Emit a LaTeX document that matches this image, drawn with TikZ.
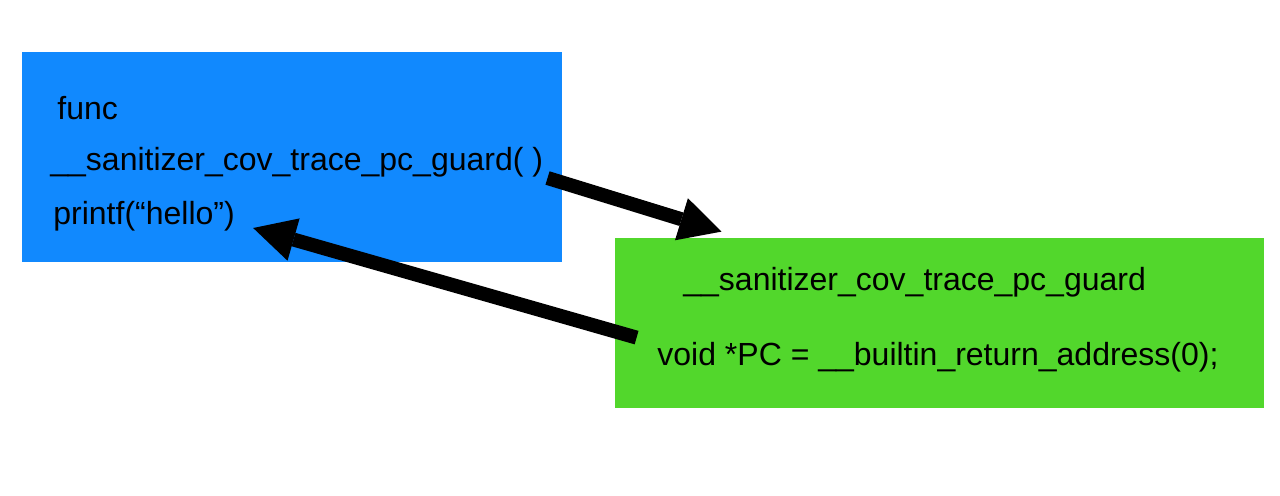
\documentclass[tikz,border=0pt]{standalone}
\usepackage{fontspec}
\setmainfont{Liberation Sans}
\usepackage{tikz}
\usetikzlibrary{positioning,arrows.meta}
\definecolor{callerblue}{RGB}{17,137,254}
\definecolor{calleegreen}{RGB}{82,215,44}
\tikzset{>={Triangle[width=22pt,length=21pt,line width=0pt]}}
\tikzset{
	box/.style={draw=none, inner sep=0pt},
	code/.style={anchor=base west, inner sep=0pt, font=\fontsize{16}{19}\selectfont},
	bigarrow/.style={->, line width=7pt, black}
}

\begin{document}
\begin{tikzpicture}[x=0.5pt,y=-0.5pt]
			\useasboundingbox (0,0) rectangle (1280,495);
			\node[box, fill=callerblue, minimum width=270pt, minimum height=105pt] (caller) at (292,157) {};
			\node[box, fill=calleegreen, minimum width=324.5pt, minimum height=85pt] (callee) at (939.5,323) {};
			\node[code] (func) at (57,119) {func};
			\node[code] (guardcall) at (50,170) {\_\_sanitizer\_cov\_trace\_pc\_guard( )};
			\node[code] (printf) at (53,224) {printf(“hello”)};
			\node[code] (guarddef) at (683,290) {\_\_sanitizer\_cov\_trace\_pc\_guard};
			\node[code] (retaddr) at (657,365) {void *PC = \_\_builtin\_return\_address(0);};
			\draw[bigarrow] ([shift={(4,8)}]guardcall.base east) -- ([shift={(107,-6)}]callee.north west);
			\draw[bigarrow] ([shift={(22,100)}]callee.north west) -- ([shift={(18,4)}]printf.base east);
	\end{tikzpicture}
\end{document}
